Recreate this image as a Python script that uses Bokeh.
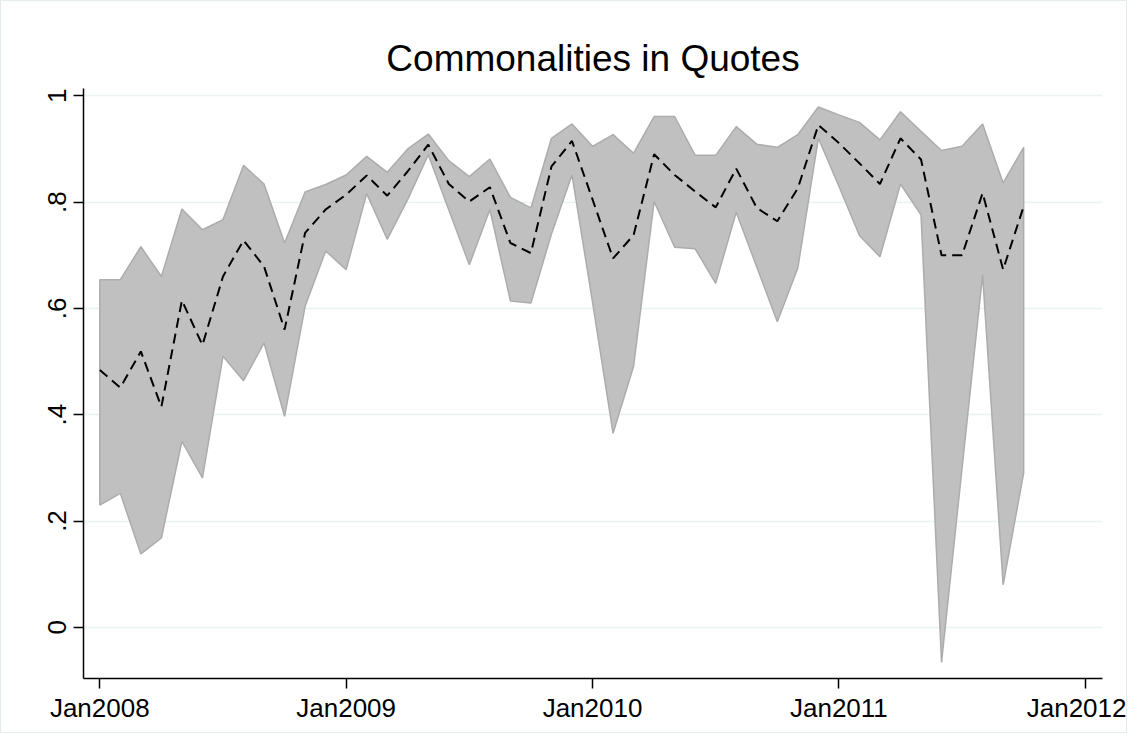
from bokeh.plotting import figure
from bokeh.models import FixedTicker, Range1d
from bokeh.embed import file_html
from bokeh.resources import INLINE

# Monthly observations, Jan2008 .. Oct2011
start_year = 2008
upper = [0.654, 0.654, 0.716, 0.660, 0.787, 0.748, 0.767, 0.869, 0.834, 0.723,
         0.819, 0.833, 0.851, 0.886, 0.856, 0.900, 0.928, 0.878, 0.848, 0.881,
         0.809, 0.789, 0.920, 0.947, 0.905, 0.927, 0.892, 0.961, 0.961, 0.888,
         0.888, 0.942, 0.909, 0.903, 0.927, 0.979, 0.964, 0.950, 0.917, 0.970,
         0.933, 0.897, 0.905, 0.947, 0.836, 0.903]
mid = [0.484, 0.451, 0.519, 0.415, 0.615, 0.531, 0.660, 0.728, 0.679, 0.560,
       0.742, 0.786, 0.814, 0.850, 0.812, 0.858, 0.908, 0.834, 0.801, 0.828,
       0.723, 0.704, 0.867, 0.915, 0.805, 0.694, 0.738, 0.890, 0.851, 0.820,
       0.790, 0.863, 0.789, 0.764, 0.826, 0.945, 0.911, 0.873, 0.834, 0.920,
       0.880, 0.700, 0.700, 0.817, 0.673, 0.792]
lower = [0.230, 0.252, 0.138, 0.168, 0.350, 0.281, 0.510, 0.464, 0.535, 0.397,
         0.604, 0.708, 0.673, 0.816, 0.730, 0.805, 0.889, 0.785, 0.682, 0.786,
         0.614, 0.610, 0.740, 0.851, 0.612, 0.365, 0.491, 0.801, 0.715, 0.712,
         0.647, 0.781, 0.678, 0.575, 0.676, 0.920, 0.830, 0.737, 0.697, 0.834,
         0.776, -0.066, 0.300, 0.663, 0.080, 0.290]

x_tick_pos = [0, 12, 24, 36, 48]
x_tick_labels = ["Jan2008", "Jan2009", "Jan2010", "Jan2011", "Jan2012"]
y_tick_pos = [0.0, 0.2, 0.4, 0.6, 0.8, 1.0]
y_tick_labels = ["0", ".2", ".4", ".6", ".8", "1"]

months = list(range(len(mid)))

FONT = "Liberation Sans"

p = figure(width=1127, height=733, output_backend="svg", toolbar_location=None,
           x_range=Range1d(-0.794, 48.84), y_range=Range1d(-0.0963, 1.0137),
           min_border_left=82, min_border_right=26, min_border_top=87,
           min_border_bottom=56, title="Commonalities in Quotes",
           styles={"border": "1px solid #e4ecef"})

p.title.align = "center"
p.title.text_font = FONT
p.title.text_font_size = "37px"
p.title.text_font_style = "normal"
p.title.text_color = "black"
p.title.standoff = 19

p.background_fill_color = "white"
p.border_fill_color = "white"
p.outline_line_color = None

# band
px = months + months[::-1]
py = upper + lower[::-1]
p.patch(px, py, fill_color="#c0c0c0", line_color="#acacac", line_width=1.5)
p.line(months, mid, line_color="black", line_width=2, line_dash="10 6")

# axes
p.xaxis.ticker = FixedTicker(ticks=x_tick_pos)
p.xaxis.major_label_overrides = {t: s for t, s in zip(x_tick_pos, x_tick_labels)}
p.yaxis.ticker = FixedTicker(ticks=y_tick_pos)
p.yaxis.major_label_overrides = {t: s for t, s in zip(y_tick_pos, y_tick_labels)}
p.yaxis.major_label_orientation = "vertical"

for ax in (p.xaxis, p.yaxis):
    ax.axis_line_color = "black"
    ax.axis_line_width = 1.5
    ax.major_tick_line_color = "black"
    ax.major_tick_line_width = 1.5
    ax.major_tick_out = 10
    ax.major_tick_in = 0
    ax.minor_tick_line_color = None
    ax.major_label_text_font = FONT
    ax.major_label_text_font_size = "26px"
    ax.major_label_text_color = "black"

p.xaxis.major_label_standoff = 4
p.yaxis.major_label_standoff = 7

p.xgrid.grid_line_color = None
p.ygrid.grid_line_color = "#eaf2f3"
p.ygrid.grid_line_width = 1.5

open("out.html", "w").write(file_html(p, INLINE))
